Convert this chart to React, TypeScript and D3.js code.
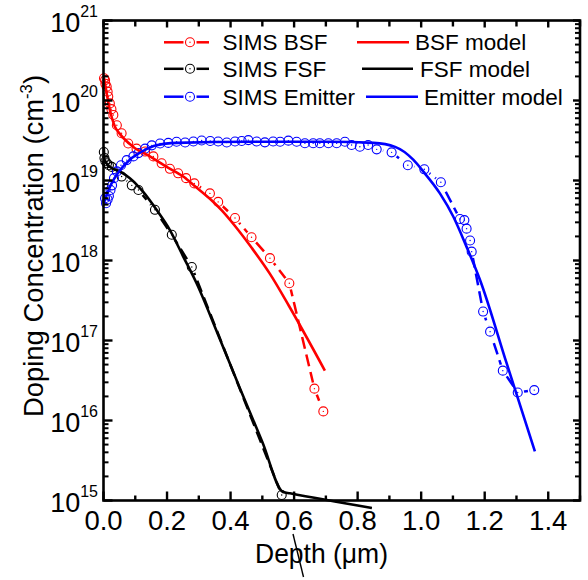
import React from 'react';
import * as d3 from 'd3';

type P = [number, number];

// depth (µm), concentration (cm^-3)
const simsBSF: P[] = [
  [0.0016, 1.9e20], [0.005, 1.8e20], [0.006, 1.62e20], [0.010, 1.49e20], [0.013, 1.29e20],
  [0.015, 1.12e20], [0.020, 9.2e19], [0.025, 7.8e19], [0.031, 6.6e19], [0.042, 4.9e19],
  [0.057, 3.9e19], [0.078, 2.9e19], [0.104, 2.5e19], [0.131, 2.3e19], [0.157, 2.0e19],
  [0.183, 1.64e19], [0.209, 1.4e19], [0.235, 1.23e19], [0.260, 1.07e19], [0.286, 9.2e18],
  [0.335, 6.9e18], [0.361, 5.4e18], [0.414, 3.4e18], [0.466, 1.95e18], [0.524, 1.07e18],
  [0.585, 5.2e17], [0.664, 2.5e16], [0.692, 1.3e16],
];

const simsFSF: P[] = [
  [0.001, 2.27e19], [0.003, 1.91e19], [0.006, 1.74e19], [0.011, 1.64e19], [0.017, 1.55e19],
  [0.026, 1.48e19], [0.057, 1.12e19], [0.089, 8.7e18], [0.110, 7.6e18], [0.162, 4.3e18],
  [0.215, 2.1e18], [0.278, 8.3e17], [0.561, 1.17e15],
];

const simsEmitter: P[] = [
  [0.005, 6.0e18], [0.008, 5.2e18], [0.013, 5.8e18], [0.017, 6.4e18], [0.022, 7.6e18],
  [0.027, 8.7e18], [0.033, 1.07e19], [0.042, 1.3e19], [0.055, 1.55e19], [0.073, 1.8e19],
  [0.094, 2.0e19], [0.110, 2.2e19], [0.131, 2.5e19], [0.152, 2.75e19], [0.178, 2.9e19],
  [0.204, 2.95e19], [0.230, 3.05e19], [0.257, 2.99e19], [0.283, 3.07e19], [0.309, 3.16e19],
  [0.336, 3.12e19], [0.361, 3.07e19], [0.388, 2.99e19], [0.414, 3.07e19], [0.435, 3.12e19],
  [0.456, 3.2e19], [0.482, 3.07e19], [0.508, 3.0e19], [0.534, 3.07e19], [0.556, 3.05e19],
  [0.582, 3.15e19], [0.608, 3.05e19], [0.634, 2.92e19], [0.660, 2.92e19], [0.681, 2.92e19],
  [0.708, 2.92e19], [0.734, 2.92e19], [0.760, 3.05e19], [0.781, 2.78e19], [0.807, 2.64e19],
  [0.833, 2.78e19], [0.860, 2.45e19], [0.907, 2.25e19], [0.958, 1.55e19], [1.010, 1.38e19],
  [1.062, 9.5e18], [1.122, 3.3e18], [1.136, 3.2e18], [1.143, 2.5e18], [1.154, 1.78e18],
  [1.159, 1.29e18], [1.195, 2.3e17], [1.217, 1.29e17], [1.257, 4.2e16], [1.304, 2.24e16],
  [1.356, 2.4e16],
];

const bsfModel: P[] = [
  [0.001, 1.95e20], [0.010, 1.23e20], [0.020, 7.6e19], [0.036, 4.7e19], [0.052, 3.8e19],
  [0.094, 2.63e19], [0.146, 2.0e19], [0.199, 1.48e19], [0.251, 1.12e19], [0.286, 8.6e18],
  [0.335, 5.9e18], [0.373, 4.2e18], [0.414, 2.7e18], [0.467, 1.43e18], [0.524, 6.8e17],
  [0.584, 2.7e17], [0.697, 4.2e16],
];

const fsfModel: P[] = [
  [0.001, 2.63e19], [0.003, 1.82e19], [0.020, 1.48e19], [0.052, 1.29e19], [0.083, 1.07e19],
  [0.125, 7.2e18], [0.167, 4.3e18], [0.209, 2.4e18], [0.251, 1.12e18], [0.293, 5.2e17],
  [0.36, 1.2e17], [0.43, 2.5e16], [0.50, 5.4e15], [0.565, 1.28e15], [0.587, 1.23e15],
  [0.845, 8.06e14],
];

const emitterModel: P[] = [
  [0.001, 5.2e18], [0.020, 8.3e18], [0.052, 1.35e19], [0.083, 1.82e19], [0.125, 2.34e19],
  [0.167, 2.75e19], [0.230, 2.95e19], [0.461, 3.05e19], [0.713, 3.05e19], [0.85, 2.95e19],
  [0.918, 2.63e19], [0.975, 1.82e19], [1.007, 1.29e19], [1.059, 6.9e18], [1.101, 3.55e18],
  [1.143, 1.48e18], [1.185, 5.75e17], [1.269, 5.2e16], [1.358, 4.1e15],
];

const xMajorTicks = [0, 0.2, 0.4, 0.6, 0.8, 1.0, 1.2, 1.4];
const xTickLabels = ['0.0', '0.2', '0.4', '0.6', '0.8', '1.0', '1.2', '1.4'];
const xMinorTicks = [0.1, 0.3, 0.5, 0.7, 0.9, 1.1, 1.3, 1.5];
const yExponents = [15, 16, 17, 18, 19, 20, 21];

const RED = '#ff0000';
const BLACK = '#000000';
const BLUE = '#0000ff';
const FONT = "'Liberation Sans', Arial, Helvetica, sans-serif";

const L = 103.5, R = 580, T = 20.5, B = 500.5;
const SR = 4.5; // symbol radius
const GAP = 6.5; // line gap radius around symbols

export default function App() {
  const x = d3.scaleLinear().domain([0, 1.5]).range([L, R]);
  const y = d3.scaleLog().domain([1e15, 1e21]).range([B, T]);

  const straight = d3.line<P>().x(d => x(d[0])).y(d => y(d[1]));
  const smooth = d3.line<P>().x(d => x(d[0])).y(d => y(d[1])).curve(d3.curveMonotoneX);

  const simsSeries = [
    { id: 'bsf', data: simsBSF, color: RED },
    { id: 'fsf', data: simsFSF, color: BLACK },
    { id: 'emi', data: simsEmitter, color: BLUE },
  ];
  const modelSeries = [
    { id: 'mbsf', data: bsfModel, color: RED },
    { id: 'mfsf', data: fsfModel, color: BLACK },
    { id: 'memi', data: emitterModel, color: BLUE },
  ];

  const yMinor = y.ticks().filter(v => {
    const e = Math.log10(v);
    return Math.abs(e - Math.round(e)) > 1e-6;
  });

  const legendLeft = [
    { label: 'SIMS BSF', color: RED, ly: 42.3, ty: 50 },
    { label: 'SIMS FSF', color: BLACK, ly: 68.8, ty: 76.5 },
    { label: 'SIMS Emitter', color: BLUE, ly: 96.7, ty: 104.5 },
  ];
  const legendRight = [
    { label: 'BSF model', color: RED, x0: 357, x1: 409, tx: 415, ly: 42.3, ty: 50 },
    { label: 'FSF model', color: BLACK, x0: 362, x1: 413, tx: 420, ly: 68.8, ty: 76.5 },
    { label: 'Emitter model', color: BLUE, x0: 366, x1: 418, tx: 424, ly: 96.7, ty: 104.5 },
  ];

  return (
    <svg width={588} height={580} style={{ position: 'absolute', left: 0, top: 0, background: '#fff' }}
      fontFamily={FONT}>
      <defs>
        {simsSeries.map(s => (
          <mask id={`mask-${s.id}`} key={s.id} maskUnits="userSpaceOnUse" x={0} y={0} width={588} height={580}>
            <rect x={0} y={0} width={588} height={580} fill="white" />
            {s.data.map((d, i) => (
              <circle key={i} cx={x(d[0])} cy={y(d[1])} r={GAP} fill="black" />
            ))}
          </mask>
        ))}
      </defs>
      <rect x={0} y={0} width={588} height={580} fill="#fff" />

      {/* SIMS dashed lines + symbols */}
      {simsSeries.map(s => (
        <g key={s.id}>
          <path d={straight(s.data) || ''} fill="none" stroke={s.color} strokeWidth={2.5}
            strokeDasharray="12,6" mask={`url(#mask-${s.id})`} />
          {s.data.map((d, i) => (
            <g key={i}>
              <circle cx={x(d[0])} cy={y(d[1])} r={SR} fill="none" stroke={s.color} strokeWidth={1.1} />
              <circle cx={x(d[0])} cy={y(d[1])} r={0.7} fill={s.color} />
            </g>
          ))}
        </g>
      ))}

      {/* model lines */}
      {modelSeries.map(s => (
        <path key={s.id} d={smooth(s.data) || ''} fill="none" stroke={s.color} strokeWidth={2.6}
          strokeLinejoin="round" />
      ))}

      {/* frame */}
      <rect x={L} y={T} width={R - L} height={B - T} fill="none" stroke="#000" strokeWidth={2.6} />

      {/* bottom & top ticks */}
      {xMajorTicks.map(t => (
        <g key={`xM${t}`}>
          <line x1={x(t)} x2={x(t)} y1={B} y2={B - 9} stroke="#000" strokeWidth={2.4} />
          <line x1={x(t)} x2={x(t)} y1={T} y2={T + 7} stroke="#000" strokeWidth={2.4} />
        </g>
      ))}
      {xMinorTicks.map(t => (
        <g key={`xm${t}`}>
          <line x1={x(t)} x2={x(t)} y1={B} y2={B - 5} stroke="#000" strokeWidth={2.4} />
          <line x1={x(t)} x2={x(t)} y1={T} y2={T + 6} stroke="#000" strokeWidth={2.4} />
        </g>
      ))}

      {/* left & right ticks */}
      {yExponents.map(e => (
        <g key={`yM${e}`}>
          <line x1={L} x2={L + 9} y1={y(Math.pow(10, e))} y2={y(Math.pow(10, e))} stroke="#000" strokeWidth={2.4} />
          <line x1={R} x2={R - 7} y1={y(Math.pow(10, e))} y2={y(Math.pow(10, e))} stroke="#000" strokeWidth={2.4} />
        </g>
      ))}
      {yMinor.map((v, i) => (
        <g key={`ym${i}`}>
          <line x1={L} x2={L + 5} y1={y(v)} y2={y(v)} stroke="#000" strokeWidth={2} />
          <line x1={R} x2={R - 5} y1={y(v)} y2={y(v)} stroke="#000" strokeWidth={2} />
        </g>
      ))}

      {/* tick labels */}
      {xMajorTicks.map((t, i) => (
        <text key={`xl${t}`} x={x(t)} y={530} fontSize={27.5} textAnchor="middle" fill="#000">
          {xTickLabels[i]}
        </text>
      ))}
      {yExponents.map(e => (
        <text key={`yl${e}`} x={98} y={y(Math.pow(10, e)) + 11} fontSize={27} textAnchor="end" fill="#000">
          10<tspan dy={-15} fontSize={16}>{e}</tspan>
        </text>
      ))}

      {/* axis titles */}
      <text x={255} y={563} fontSize={28} textLength={133} lengthAdjust="spacingAndGlyphs" fill="#000">
        Depth (μm)
      </text>
      <line x1={293} y1={534} x2={303.5} y2={577} stroke="#000" strokeWidth={1.4} />
      <text transform="translate(43,246) rotate(-90)" fontSize={28} textAnchor="middle"
        textLength={342} lengthAdjust="spacingAndGlyphs" fill="#000">
        Doping Concentration (cm<tspan dy={-11} fontSize={17}>-3</tspan><tspan dy={11}>)</tspan>
      </text>

      {/* legend */}
      {legendLeft.map(l => (
        <g key={l.label}>
          <line x1={164} x2={190 - GAP} y1={l.ly} y2={l.ly} stroke={l.color} strokeWidth={2.5} />
          <line x1={190 + GAP} x2={209} y1={l.ly} y2={l.ly} stroke={l.color} strokeWidth={2.5} />
          <circle cx={190} cy={l.ly} r={SR} fill="none" stroke={l.color} strokeWidth={1.1} />
          <circle cx={190} cy={l.ly} r={0.7} fill={l.color} />
          <text x={222.5} y={l.ty} fontSize={22.5} fill="#000">{l.label}</text>
        </g>
      ))}
      {legendRight.map(l => (
        <g key={l.label}>
          <line x1={l.x0} x2={l.x1} y1={l.ly} y2={l.ly} stroke={l.color} strokeWidth={2.6} />
          <text x={l.tx} y={l.ty} fontSize={22.5} fill="#000">{l.label}</text>
        </g>
      ))}
    </svg>
  );
}
